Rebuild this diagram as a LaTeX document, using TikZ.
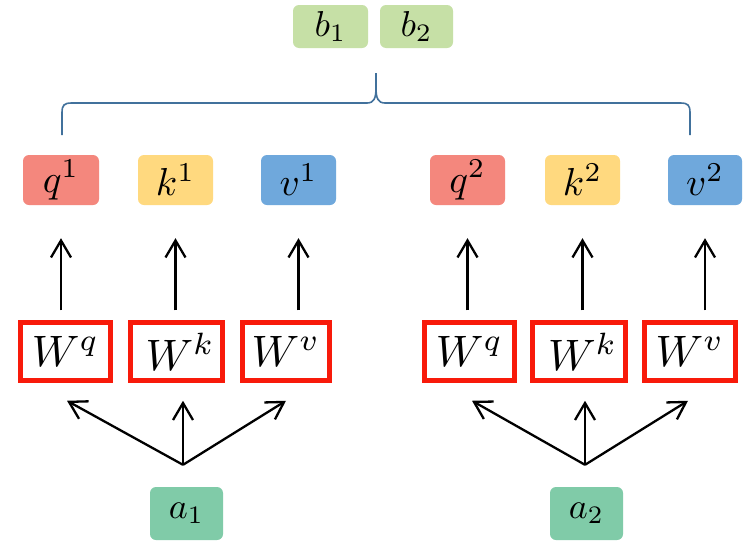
\documentclass[tikz,border=0pt]{standalone}
\usetikzlibrary{arrows.meta,calc}
\definecolor{qred}{HTML}{F4877D}
\definecolor{kyel}{HTML}{FFD97F}
\definecolor{vblue}{HTML}{6FA8DC}
\definecolor{bgreen}{HTML}{C6E0A6}
\definecolor{agreen}{HTML}{80CBA8}
\definecolor{braceblue}{HTML}{41719C}
\definecolor{wred}{HTML}{F81A0A}
\newcommand{\mylbl}[1]{\scalebox{3.9}{$#1$}}
\newcommand{\myblbl}[1]{\scalebox{3.6}{$#1$}}
\newcommand{\mywlbl}[1]{\scalebox{4.4}{$#1$}}
\begin{document}
\begin{tikzpicture}[x=1pt,y=-1pt,
  tile/.style={rounded corners=6pt, minimum height=50pt, inner sep=0pt},
  wbox/.style={draw=wred, line width=4.5pt, fill=white, minimum height=58pt,
    inner sep=0pt},
  arr/.style={line width=2.3pt, -{Straight Barb[length=17pt,width=20pt,line width=2.3pt]}},
  bracestyle/.style={draw=braceblue, line width=1.6pt}]
\fill[white] (0,0) rectangle (751,544);
\useasboundingbox (0,0) rectangle (751,544);
% top outputs
\node[tile, fill=bgreen, minimum width=75pt, minimum height=43pt] (b1) at (330.5,26.5) {\myblbl{b_1}};
\node[tile, fill=bgreen, minimum width=73pt, minimum height=43pt] (b2) at (416.5,26.5) {\myblbl{b_2}};
% q k v
\node[tile, fill=qred,  minimum width=76pt] (q1) at (61,180) {\mylbl{q^1}};
\node[tile, fill=kyel,  minimum width=75pt] (k1) at (175.5,180) {\mylbl{k^1}};
\node[tile, fill=vblue, minimum width=75pt] (v1) at (298.5,180) {\mylbl{v^1}};
\node[tile, fill=qred,  minimum width=75pt] (q2) at (467.5,180) {\mylbl{q^2}};
\node[tile, fill=kyel,  minimum width=75pt] (k2) at (582.5,180) {\mylbl{k^2}};
\node[tile, fill=vblue, minimum width=74pt] (v2) at (705,180) {\mylbl{v^2}};
% W boxes
\node[wbox, minimum width=90pt] (wq1) at (65.5,351.5) {\mywlbl{W^q}};
\node[wbox, minimum width=92pt] (wk1) at (176.5,351.5) {\mywlbl{\,W^k}};
\node[wbox, minimum width=87pt] (wv1) at (286,351.5) {\mywlbl{W^v}};
\node[wbox, minimum width=90pt] (wq2) at (469.5,351.5) {\mywlbl{W^q}};
\node[wbox, minimum width=93pt] (wk2) at (579,351.5) {\mywlbl{\,W^k}};
\node[wbox, minimum width=91pt] (wv2) at (690,351.5) {\mywlbl{W^v}};
% inputs
\node[tile, fill=agreen, minimum width=73pt, minimum height=53pt] (a1) at (186.5,513.5) {\myblbl{a_1}};
\node[tile, fill=agreen, minimum width=73pt, minimum height=53pt] (a2) at (586.5,513.5) {\myblbl{a_2}};
% fork points
\coordinate (f1) at ($(a1.north)+(-3.5,-22)$);
\coordinate (f2) at ($(a2.north)+(-1.5,-22)$);
% arrows W -> q,k,v
\foreach \w/\t in {wq1/q1,wk1/k1,wv1/v1,wq2/q2,wk2/k2,wv2/v2}
  \draw[arr, shorten <=10pt, shorten >=33pt] (\t.south |- \w.north) -- (\t.south);
% arrows a -> W
\draw[arr] (f1) -- ($(wq1.south)+(1.5,18)$);
\draw[arr] (f1) -- ($(f1 |- wk1.south)+(0,18)$);
\draw[arr] (f1) -- ($(wv1.south)+(0,18)$);
\draw[arr] (f2) -- ($(wq2.south)+(2.5,18)$);
\draw[arr] (f2) -- ($(f2 |- wk2.south)+(0,18)$);
\draw[arr] (f2) -- ($(wv2.south)+(-2,18)$);
% brace
\draw[bracestyle] (62,135) -- (62,113) .. controls (62,105) and (64,103) .. (72,103)
  -- (367,103) .. controls (374,103) and (376,98) .. (376,88) -- (376,73)
  -- (376,88) .. controls (376,98) and (378,103) .. (385,103)
  -- (680,103) .. controls (688,103) and (690,105) .. (690,113) -- (690,135);
\end{tikzpicture}
\end{document}
